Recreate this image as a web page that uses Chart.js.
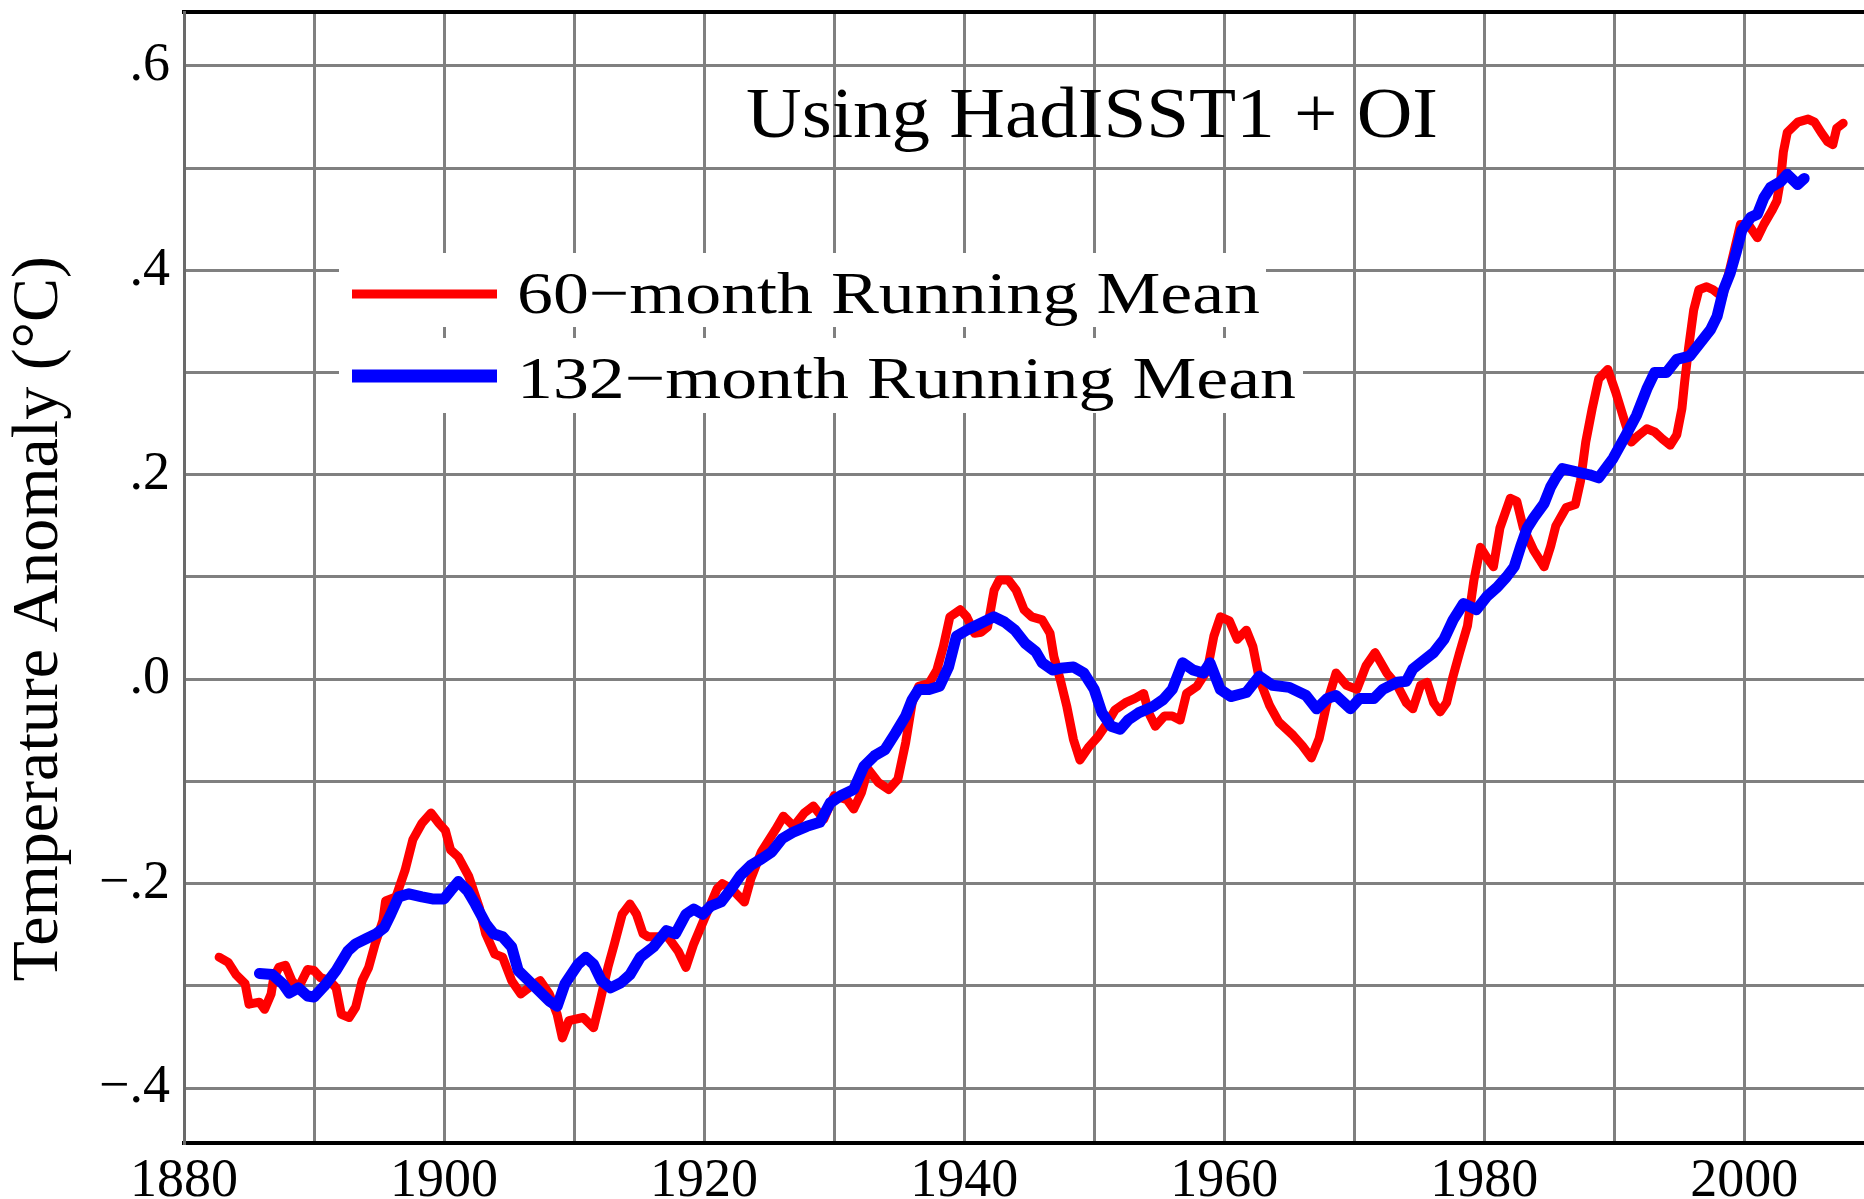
<!DOCTYPE html>
<html>
<head>
<meta charset="utf-8">
<script src="https://cdn.jsdelivr.net/npm/chart.js@4/dist/chart.umd.min.js"></script>
<style>
  html, body { margin: 0; padding: 0; background: #ffffff; }
  #wrap { width: 1864px; height: 1199px; }
</style>
</head>
<body>
<div id="wrap"><canvas id="c" width="1864" height="1199"></canvas></div>
<script>
// ---------------- data ----------------
const redYears = [1882.7,1883.4,1884.0,1884.7,1885.0,1885.8,1886.2,1886.7,1886.9,1887.3,1887.8,1888.3,1888.8,1889.5,1890.0,1890.5,1891.2,1891.7,1892.1,1892.7,1893.2,1893.7,1894.2,1894.7,1895.3,1895.5,1896.3,1897.0,1897.6,1898.3,1899.0,1899.6,1900.1,1900.5,1901.1,1901.9,1902.7,1903.2,1903.9,1904.5,1905.2,1905.9,1906.5,1907.4,1908.1,1908.7,1909.1,1909.6,1910.7,1911.5,1912.0,1912.6,1913.1,1913.7,1914.3,1914.8,1915.3,1915.7,1916.5,1917.2,1918.0,1918.6,1919.2,1920.0,1921.0,1921.4,1922.1,1923.1,1923.6,1924.4,1925.5,1926.1,1926.9,1927.7,1928.4,1929.2,1930.0,1931.0,1931.5,1932.1,1932.6,1933.4,1934.2,1934.9,1935.5,1936.0,1936.5,1937.3,1937.9,1938.4,1938.9,1939.7,1940.2,1940.8,1941.3,1941.8,1942.3,1942.7,1943.4,1944.0,1944.6,1945.2,1946.0,1946.6,1946.9,1947.4,1947.9,1948.4,1948.9,1949.6,1950.3,1951.0,1951.6,1952.4,1953.1,1953.8,1954.2,1954.7,1955.4,1956.0,1956.6,1957.1,1957.9,1958.7,1959.2,1959.7,1960.4,1961.0,1961.7,1962.2,1962.7,1963.5,1964.2,1965.3,1966.0,1966.7,1967.3,1967.9,1968.6,1969.4,1970.2,1970.9,1971.6,1972.5,1973.3,1974.0,1974.5,1975.1,1975.6,1976.1,1976.6,1977.1,1977.6,1978.1,1978.7,1979.2,1979.7,1980.2,1980.7,1981.2,1982.0,1982.5,1983.0,1983.8,1984.6,1985.1,1985.5,1986.3,1987.0,1987.4,1987.8,1988.3,1988.8,1989.5,1990.1,1990.8,1991.3,1991.9,1992.5,1993.1,1993.7,1994.3,1994.8,1995.2,1995.4,1995.7,1996.1,1996.5,1997.1,1997.6,1998.3,1998.8,1999.4,1999.7,2000.3,2001.0,2001.5,2002.1,2002.5,2002.8,2003.0,2003.3,2004.1,2004.9,2005.4,2005.9,2006.4,2006.8,2007.1,2007.6];
const redValues = [-0.272,-0.277,-0.289,-0.298,-0.318,-0.316,-0.323,-0.308,-0.292,-0.282,-0.280,-0.295,-0.302,-0.284,-0.285,-0.292,-0.295,-0.302,-0.328,-0.331,-0.321,-0.295,-0.282,-0.259,-0.236,-0.217,-0.213,-0.187,-0.157,-0.141,-0.131,-0.141,-0.148,-0.167,-0.174,-0.193,-0.223,-0.249,-0.269,-0.272,-0.295,-0.308,-0.302,-0.295,-0.308,-0.328,-0.351,-0.334,-0.331,-0.341,-0.315,-0.282,-0.259,-0.230,-0.220,-0.230,-0.249,-0.252,-0.252,-0.252,-0.266,-0.282,-0.259,-0.235,-0.205,-0.200,-0.205,-0.218,-0.195,-0.169,-0.147,-0.134,-0.144,-0.131,-0.124,-0.137,-0.114,-0.118,-0.127,-0.111,-0.088,-0.101,-0.108,-0.098,-0.062,-0.023,-0.007,-0.004,0.009,0.032,0.061,0.068,0.061,0.045,0.046,0.051,0.087,0.097,0.097,0.087,0.068,0.061,0.058,0.045,0.022,-0.001,-0.027,-0.059,-0.079,-0.066,-0.056,-0.043,-0.030,-0.023,-0.019,-0.014,-0.033,-0.046,-0.036,-0.036,-0.040,-0.014,-0.007,0.009,0.042,0.061,0.057,0.039,0.048,0.032,0.000,-0.026,-0.042,-0.055,-0.065,-0.077,-0.058,-0.023,0.006,-0.006,-0.010,0.013,0.026,0.006,-0.006,-0.023,-0.029,-0.006,-0.003,-0.023,-0.032,-0.023,0.003,0.026,0.052,0.097,0.129,0.119,0.110,0.148,0.177,0.174,0.148,0.126,0.110,0.130,0.150,0.168,0.171,0.194,0.232,0.265,0.294,0.303,0.281,0.252,0.232,0.239,0.245,0.242,0.235,0.229,0.239,0.265,0.290,0.323,0.361,0.381,0.384,0.381,0.374,0.397,0.429,0.445,0.445,0.432,0.445,0.458,0.468,0.490,0.516,0.535,0.545,0.548,0.545,0.535,0.526,0.523,0.539,0.544];

const blueYears = [1885.8,1886.8,1887.6,1888.1,1888.8,1889.5,1890.0,1890.8,1891.7,1892.6,1893.2,1894.0,1894.8,1895.4,1895.9,1896.5,1897.3,1898.3,1899.1,1900.0,1900.5,1901.1,1901.8,1902.4,1903.2,1903.8,1904.5,1905.2,1905.7,1906.5,1907.3,1908.1,1908.7,1909.3,1910.3,1910.9,1911.5,1912.1,1912.8,1913.6,1914.3,1915.1,1916.1,1917.1,1917.8,1918.6,1919.2,1919.9,1920.5,1921.3,1922.1,1922.8,1923.6,1924.4,1925.2,1926.0,1926.8,1927.9,1928.9,1929.7,1930.5,1931.5,1932.3,1933.1,1933.9,1934.7,1935.5,1936.0,1936.5,1937.3,1938.1,1938.8,1939.4,1940.2,1941.0,1941.8,1942.3,1943.1,1943.9,1944.7,1945.5,1946.0,1946.8,1947.6,1948.4,1949.2,1950.0,1950.6,1951.3,1952.0,1952.6,1953.4,1954.5,1955.3,1956.0,1956.8,1957.6,1958.4,1958.9,1959.7,1960.5,1961.7,1962.7,1963.7,1965.0,1966.3,1967.1,1967.9,1968.6,1969.7,1970.4,1971.5,1972.2,1973.3,1974.0,1974.5,1975.3,1976.1,1976.9,1977.6,1978.4,1979.4,1980.2,1981.0,1981.7,1982.3,1982.8,1983.3,1983.8,1984.6,1985.1,1985.5,1986.0,1987.0,1988.1,1988.8,1989.9,1990.9,1991.7,1992.5,1993.1,1994.0,1994.8,1995.8,1996.6,1997.4,1997.9,1998.4,1998.9,1999.4,1999.8,2000.5,2001.0,2001.5,2002.0,2002.8,2003.3,2004.1,2004.6];
const blueValues = [-0.288,-0.289,-0.298,-0.307,-0.302,-0.310,-0.311,-0.300,-0.285,-0.266,-0.259,-0.254,-0.249,-0.243,-0.230,-0.213,-0.210,-0.213,-0.215,-0.215,-0.207,-0.198,-0.207,-0.220,-0.239,-0.249,-0.252,-0.262,-0.285,-0.295,-0.305,-0.315,-0.320,-0.298,-0.279,-0.272,-0.279,-0.295,-0.302,-0.297,-0.289,-0.272,-0.262,-0.246,-0.249,-0.230,-0.225,-0.230,-0.222,-0.218,-0.205,-0.192,-0.182,-0.176,-0.169,-0.156,-0.150,-0.144,-0.140,-0.121,-0.114,-0.108,-0.085,-0.075,-0.069,-0.053,-0.036,-0.020,-0.010,-0.010,-0.007,0.012,0.042,0.048,0.053,0.058,0.061,0.056,0.048,0.035,0.027,0.016,0.009,0.011,0.012,0.006,-0.010,-0.033,-0.046,-0.049,-0.040,-0.033,-0.027,-0.020,-0.010,0.016,0.009,0.006,0.016,-0.010,-0.017,-0.013,0.003,-0.006,-0.008,-0.016,-0.029,-0.019,-0.016,-0.029,-0.019,-0.019,-0.010,-0.003,-0.002,0.010,0.018,0.026,0.039,0.058,0.074,0.068,0.081,0.090,0.100,0.110,0.130,0.148,0.158,0.172,0.188,0.197,0.206,0.203,0.200,0.197,0.216,0.239,0.258,0.284,0.300,0.300,0.313,0.316,0.329,0.342,0.355,0.381,0.397,0.419,0.439,0.452,0.455,0.471,0.481,0.487,0.494,0.484,0.490];

const xTickValues = [1880,1890,1900,1910,1920,1930,1940,1950,1960,1970,1980,1990,2000];
const xTickLabels = ['1880','','1900','','1920','','1940','','1960','','1980','','2000'];
const yTickValues = [-0.4,-0.3,-0.2,-0.1,0.0,0.1,0.2,0.3,0.4,0.5,0.6];
const yTickLabels = ['\u2212.4','','\u2212.2','','.0','','.2','','.4','','.6'];

const seriesNames = ['60\u2212month Running Mean', '132\u2212month Running Mean'];
const annotationText = 'Using HadISST1 + OI';
const yAxisTitle = 'Temperature Anomaly (\u00B0C)';

// ---------------- build ----------------
const toPoints = (xs, ys) => xs.map((x, i) => ({ x: x, y: ys[i] }));
const SERIF = '"Liberation Serif", "Times New Roman", serif';
const GRID = '#808080';

const decorPlugin = {
  id: 'decor',
  beforeDatasetsDraw(chart) {
    const ctx = chart.ctx;
    ctx.save();
    // white backing boxes behind the legend rows
    ctx.fillStyle = '#ffffff';
    ctx.fillRect(339, 253, 1266 - 339, 327 - 253);
    ctx.fillRect(339, 338, 1303 - 339, 413 - 338);

    // legend line samples
    ctx.lineCap = 'butt';
    ctx.strokeStyle = '#ff0000';
    ctx.lineWidth = 9;
    ctx.beginPath(); ctx.moveTo(352, 294); ctx.lineTo(497, 294); ctx.stroke();
    ctx.strokeStyle = '#0000ff';
    ctx.lineWidth = 13;
    ctx.beginPath(); ctx.moveTo(352, 376); ctx.lineTo(497, 376); ctx.stroke();

    // legend text (stretched horizontally like the original)
    ctx.fillStyle = '#000000';
    ctx.textBaseline = 'alphabetic';
    ctx.textAlign = 'left';
    const drawStretched = (text, x, y, size, targetW) => {
      ctx.font = size + 'px ' + SERIF;
      const w = ctx.measureText(text).width;
      ctx.save();
      ctx.translate(x, y);
      ctx.scale(targetW / w, 1);
      ctx.fillText(text, 0, 0);
      ctx.restore();
    };
    drawStretched(seriesNames[0], 517, 313, 60, 743);
    drawStretched(seriesNames[1], 517, 398, 60, 779);
    drawStretched(annotationText, 746, 137, 72, 692);
    ctx.restore();
  }
};

const chart = new Chart(document.getElementById('c'), {
  type: 'line',
  data: {
    datasets: [
      {
        label: seriesNames[1],
        data: toPoints(blueYears, blueValues),
        borderColor: '#0000ff',
        borderWidth: 11,
        pointRadius: 0,
        tension: 0,
        borderJoinStyle: 'round',
        borderCapStyle: 'round',
        order: 0
      },
      {
        label: seriesNames[0],
        data: toPoints(redYears, redValues),
        borderColor: '#ff0000',
        borderWidth: 9,
        pointRadius: 0,
        tension: 0,
        borderJoinStyle: 'round',
        borderCapStyle: 'round',
        order: 1
      }
    ]
  },
  options: {
    responsive: false,
    animation: false,
    devicePixelRatio: 1,
    layout: { padding: 0 },
    plugins: { legend: { display: false }, tooltip: { enabled: false }, title: { display: false } },
    scales: {
      x: {
        type: 'linear',
        position: 'bottom',
        min: 1880,
        max: 2009.2,
        afterBuildTicks: s => { s.ticks = xTickValues.map(v => ({ value: v })); },
        afterFit: s => { s.height = 56; s.paddingLeft = 0; s.paddingRight = 0; },
        grid: { color: GRID, lineWidth: 3, drawTicks: false },
        border: { display: true, color: '#000000', width: 4 },
        ticks: {
          autoSkip: false, maxRotation: 0, minRotation: 0, padding: 6,
          color: '#000000',
          font: { family: SERIF, size: 54 },
          callback: (v, i) => xTickLabels[i]
        }
      },
      xTop: {
        type: 'linear',
        position: 'top',
        min: 1880,
        max: 2009.2,
        display: true,
        afterFit: s => { s.height = 12; s.paddingLeft = 0; s.paddingRight = 0; },
        grid: { display: false, drawTicks: false },
        border: { display: true, color: '#000000', width: 4 },
        ticks: { display: false }
      },
      y: {
        type: 'linear',
        position: 'left',
        min: -0.4538,
        max: 0.6528,
        afterBuildTicks: s => { s.ticks = yTickValues.map(v => ({ value: v })); },
        afterFit: s => { s.width = 184; s.paddingTop = 0; s.paddingBottom = 0; },
        grid: { color: GRID, lineWidth: 3, drawTicks: false },
        border: { display: true, color: '#6a6a6a', width: 3 },
        ticks: {
          padding: 14,
          color: '#000000',
          font: { family: SERIF, size: 54 },
          callback: (v, i) => yTickLabels[i]
        },
        title: {
          display: true,
          text: yAxisTitle + '\u00A0\u00A0\u00A0\u00A0\u00A0',
          color: '#000000',
          font: { family: SERIF, size: 66 },
          padding: 0
        }
      }
    }
  },
  plugins: [decorPlugin]
});
</script>
</body>
</html>
